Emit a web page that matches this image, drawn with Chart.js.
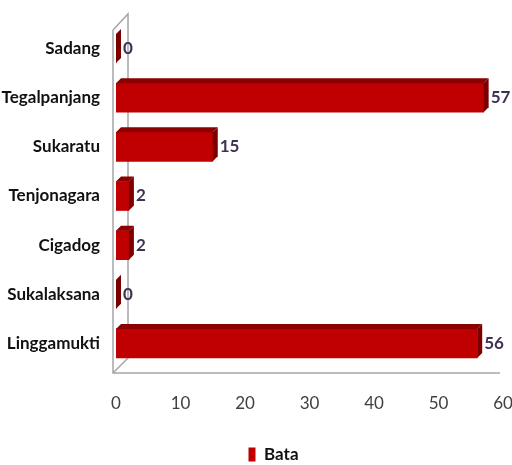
<!DOCTYPE html>
<html><head><meta charset="utf-8">
<script src="https://cdn.jsdelivr.net/npm/chart.js@4/dist/chart.umd.min.js"></script>
<style>html,body{margin:0;padding:0;background:#fff}#wrap{width:512px;height:465px}</style>
</head><body><div id="wrap"><canvas id="c" width="512" height="465"></canvas></div>
<script>
const categories = ["Sadang","Tegalpanjang","Sukaratu","Tenjonagara","Cigadog","Sukalaksana","Linggamukti"];
const bataValues = [0,57,15,2,2,0,56];
const seriesName = "Bata";
const xTicks = [0,10,20,30,40,50,60];

const FONT = "Lato,'Open Sans',sans-serif";
const DEPTH = 5;

const wallPlugin = {
  id:'wall',
  afterLayout(chart){
    const lg = chart.legend;
    if (lg) { lg.left += 22; lg.right += 22; lg.top += 8; lg.bottom += 8; }
  },
  beforeDatasetsDraw(chart){
    const {ctx, chartArea:a} = chart;
    const fx = a.left-3, bx = fx+15, fy0 = a.top+6, fy1 = a.bottom+5;
    ctx.save();
    ctx.strokeStyle = '#a6a6a6'; ctx.lineWidth = 1.5;
    ctx.beginPath();
    ctx.moveTo(fx,fy0); ctx.lineTo(fx,fy1); ctx.lineTo(a.right-3,fy1);
    ctx.moveTo(fx,fy0); ctx.lineTo(bx,fy0-16); ctx.lineTo(bx,fy1-15); ctx.lineTo(fx,fy1);
    ctx.stroke();
    ctx.restore();
  }
};

const bar3dPlugin = {
  id:'bar3d',
  afterDatasetsDraw(chart){
    const {ctx} = chart;
    const meta = chart.getDatasetMeta(0);
    ctx.save();
    meta.data.forEach((el,i)=>{
      const x0 = el.base, x1 = el.x, top = el.y-el.height/2, bot = el.y+el.height/2;
      ctx.fillStyle = '#8b0000';
      ctx.beginPath();
      ctx.moveTo(x0,top); ctx.lineTo(x0+DEPTH,top-DEPTH); ctx.lineTo(x1+DEPTH,top-DEPTH); ctx.lineTo(x1,top); ctx.closePath(); ctx.fill();
      ctx.fillStyle = '#7a0000';
      ctx.beginPath();
      ctx.moveTo(x1,top); ctx.lineTo(x1+DEPTH,top-DEPTH); ctx.lineTo(x1+DEPTH,bot-DEPTH); ctx.lineTo(x1,bot); ctx.closePath(); ctx.fill();
      ctx.fillStyle = '#3f3151';
      ctx.font = "bold 17px " + FONT;
      ctx.textAlign = 'left'; ctx.textBaseline = 'middle';
      ctx.fillText(String(bataValues[i]), x1+DEPTH+2, el.y);
    });
    ctx.restore();
  }
};

new Chart(document.getElementById('c'), {
  type:'bar',
  data:{
    labels:categories,
    datasets:[{label:seriesName, data:bataValues, backgroundColor:'#c00000', borderWidth:0, barThickness:29}]
  },
  options:{
    indexAxis:'y',
    responsive:false,
    animation:false,
    layout:{padding:{top:24,right:9,left:0,bottom:0}},
    scales:{
      x:{min:xTicks[0], max:xTicks[xTicks.length-1],
         afterBuildTicks(s){ s.ticks = xTicks.map(v=>({value:v})); },
         grid:{display:false, drawTicks:false}, border:{display:false},
         ticks:{padding:25, color:'#404040', font:{family:FONT,size:17}, maxRotation:0},
         afterFit(s){ s.height = 66; s.paddingRight = 9; s.paddingLeft = 0; }},
      y:{grid:{display:false, drawTicks:false}, border:{display:false},
         ticks:{padding:16, color:'#111', font:{family:FONT,size:17,weight:'bold'}},
         afterFit(s){ s.width = 116; s.paddingTop = 0; s.paddingBottom = 0; }}
    },
    plugins:{
      legend:{position:'bottom',
        labels:{boxWidth:7, boxHeight:14, padding:4, color:'#111', font:{family:FONT,size:17,weight:'bold'}}},
      tooltip:{enabled:false}
    }
  },
  plugins:[wallPlugin, bar3dPlugin]
});
</script></body></html>
